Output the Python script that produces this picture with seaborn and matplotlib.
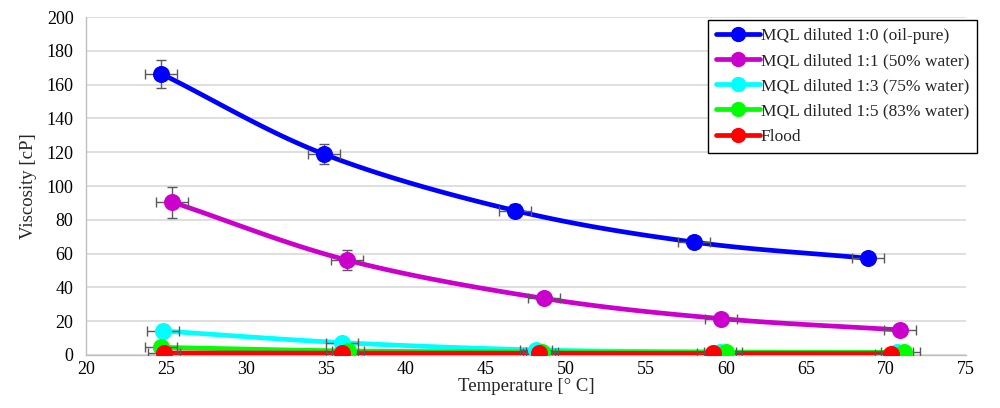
import numpy as np
import pandas as pd
import matplotlib
matplotlib.use("Agg")
import matplotlib.pyplot as plt
import seaborn as sns
from matplotlib.lines import Line2D

# ---- data ----
labels = ["MQL diluted 1:0 (oil-pure)", "MQL diluted 1:1 (50% water)",
          "MQL diluted 1:3 (75% water)", "MQL diluted 1:5 (83% water)", "Flood"]
colors = ["#0000FF", "#CC00CC", "#00FFFF", "#00FF00", "#FF0000"]

x_pure = [24.7, 34.9, 46.8, 58.0, 68.9]
y_pure = [166.5, 118.8, 85.5, 66.8, 57.2]
ye_pure = [8.2, 6.0, 4.0, 2.0, 2.0]

x_11 = [25.4, 36.3, 48.6, 59.7, 70.9]
y_11 = [90.5, 56.2, 33.5, 21.5, 14.8]
ye_11 = [9.2, 5.7, 2.5, 2.0, 1.5]

x_13 = [24.8, 36.0, 48.1, 59.6, 70.7]
y_13 = [14.2, 7.3, 3.0, 1.8, 1.5]
ye_13 = [3.5, 2.0, 1.0, 0.5, 0.5]

x_15 = [24.7, 36.4, 48.5, 60.0, 71.1]
y_15 = [4.5, 2.4, 1.8, 1.6, 1.5]
ye_15 = [1.0, 0.5, 0.5, 0.5, 0.5]

x_fl = [24.9, 36.0, 48.3, 59.2, 70.3]
y_fl = [1.2, 1.1, 1.0, 0.9, 0.8]
ye_fl = [0.5, 0.3, 0.3, 0.3, 0.3]

x_err = 1.0

series = [(x_pure, y_pure, ye_pure), (x_11, y_11, ye_11), (x_13, y_13, ye_13),
          (x_15, y_15, ye_15), (x_fl, y_fl, ye_fl)]

x_ticks = list(range(20, 80, 5))
y_ticks = list(range(0, 220, 20))


def smooth(xs, ys, n=30):
    """Catmull-Rom style smoothing through the given points (display only)."""
    p = np.column_stack([xs, ys]).astype(float)
    p = np.vstack([p[0] - (p[1] - p[0]), p, p[-1] + (p[-1] - p[-2])])
    out = []
    for i in range(1, len(p) - 2):
        p0, p1, p2, p3 = p[i - 1], p[i], p[i + 1], p[i + 2]
        t = np.linspace(0, 1, n)[:, None]
        c = 0.5 * ((2 * p1) + (-p0 + p2) * t + (2 * p0 - 5 * p1 + 4 * p2 - p3) * t ** 2
                   + (-p0 + 3 * p1 - 3 * p2 + p3) * t ** 3)
        out.append(c if i == 1 else c[1:])
    c = np.vstack(out)
    return c[:, 0], c[:, 1]


sns.set_theme(style="white")
plt.rcParams["font.family"] = ["Liberation Serif", "DejaVu Serif"]

fig = plt.figure(figsize=(10, 4.08), dpi=100)
ax = fig.add_axes([0.086, 0.130, 0.880, 0.828])

grid_c = "#d9d9d9"
for (xs, ys, ye), col, lab in zip(series, colors, labels):
    sx, sy = smooth(xs, ys)
    df = pd.DataFrame({"x": sx, "y": sy})
    sns.lineplot(data=df, x="x", y="y", ax=ax, color=col, linewidth=3.4,
                 sort=False, estimator=None, legend=False, zorder=3)
    ax.errorbar(xs, ys, xerr=x_err, yerr=ye, fmt="none", ecolor="#595959",
                elinewidth=1.0, capsize=3.5, capthick=1.0, zorder=4)
    sns.scatterplot(x=xs, y=ys, ax=ax, color=col, s=150, edgecolor=col,
                    linewidth=0, zorder=5, legend=False)

ax.set_xlim(20, 75)
ax.set_ylim(0, 200)
ax.set_xticks(x_ticks)
ax.set_yticks(y_ticks)
ax.yaxis.grid(True, color=grid_c, linewidth=1.2)
ax.xaxis.grid(False)
ax.set_axisbelow(True)
for s in ["top", "right"]:
    ax.spines[s].set_visible(False)
for s in ["left", "bottom"]:
    ax.spines[s].set_color("#bfbfbf")
    ax.spines[s].set_linewidth(1.0)
ax.tick_params(axis="both", which="major", direction="out", length=4,
               width=1.0, color="#bfbfbf", labelsize=13, labelcolor="black")
ax.tick_params(axis="x", pad=0)
ax.tick_params(axis="y", pad=5)
ax.set_xlabel("Temperature [° C]", fontsize=13.5, labelpad=0)
ax.set_ylabel("Viscosity [cP]", fontsize=13.5, labelpad=7)

handles = [Line2D([0], [0], color=c, lw=3.4, marker="o", markersize=11, markeredgewidth=0)
           for c in colors]
leg = ax.legend(handles, labels, loc="upper right", bbox_to_anchor=(0.977, 1 - 20 / 408),
                bbox_transform=fig.transFigure, fontsize=12.5, frameon=True, fancybox=False,
                edgecolor="black", framealpha=1, handlelength=2.55, handletextpad=0.05,
                borderpad=0.45, labelspacing=0.52, borderaxespad=0)
leg.get_frame().set_linewidth(1.0)

fig.savefig("out.png", dpi=100)
